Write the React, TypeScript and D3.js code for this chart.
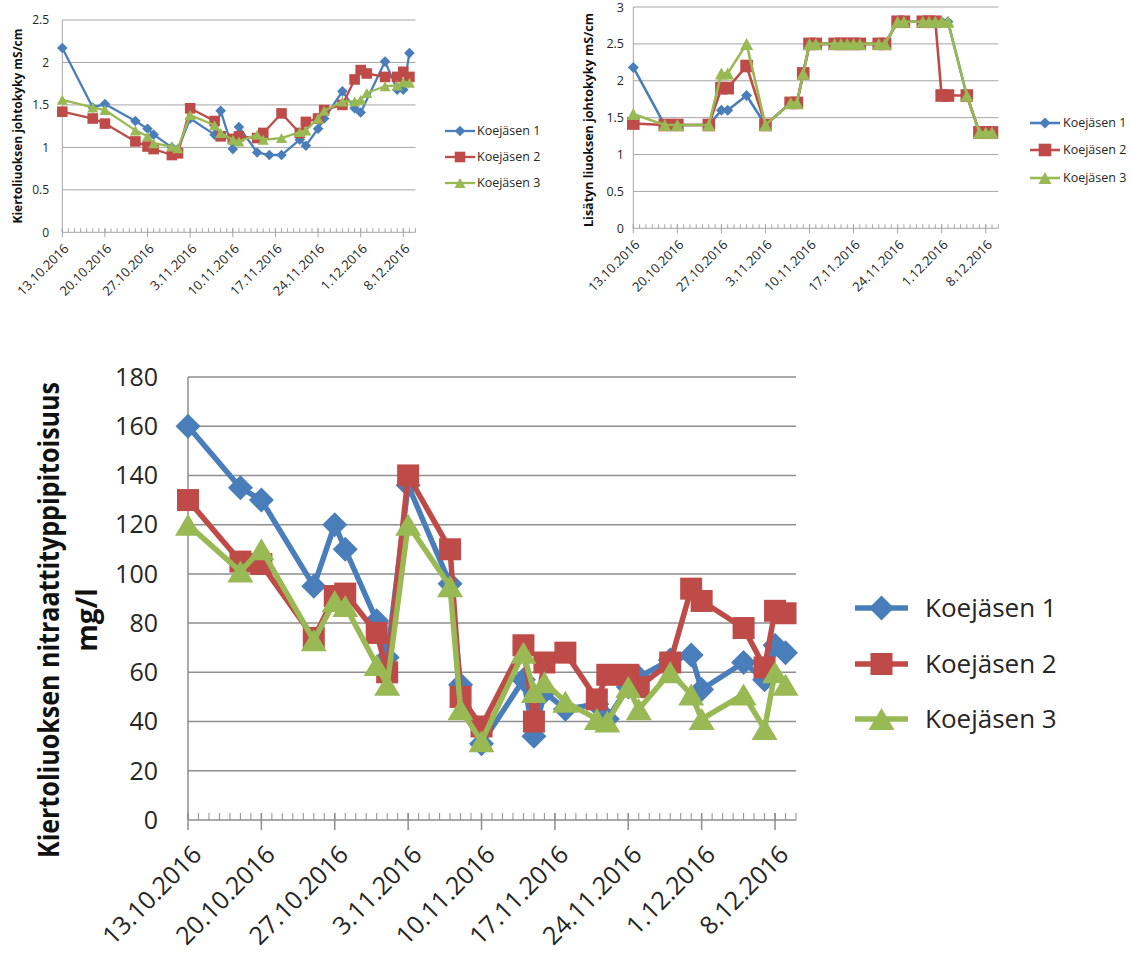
import React from "react";
import * as d3 from "d3";

// Shared date axis: 13.10.2016 – 10.12.2016, labelled weekly, minor ticks daily
const AXIS_START = "13.10.2016";
const AXIS_END = "10.12.2016";
const xTickLabels = [
  "13.10.2016", "20.10.2016", "27.10.2016", "3.11.2016", "10.11.2016",
  "17.11.2016", "24.11.2016", "1.12.2016", "8.12.2016",
];

const seriesNames = ["Koejäsen 1", "Koejäsen 2", "Koejäsen 3"];
const seriesColors = ["#4A7EBB", "#BE4B48", "#98B954"];

// Kiertoliuoksen johtokyky (mS/cm)
const datesConductivity = [
  "13.10.2016", "18.10.2016", "20.10.2016", "25.10.2016", "27.10.2016", "28.10.2016",
  "31.10.2016", "1.11.2016", "3.11.2016", "7.11.2016", "8.11.2016", "10.11.2016",
  "11.11.2016", "14.11.2016", "15.11.2016", "16.11.2016", "18.11.2016", "21.11.2016",
  "22.11.2016", "24.11.2016", "25.11.2016", "28.11.2016", "30.11.2016", "1.12.2016",
  "2.12.2016", "5.12.2016", "7.12.2016", "8.12.2016", "9.12.2016",
];
const conductivity1 = [2.17, 1.47, 1.51, 1.31, 1.22, 1.15, 1.0, 0.98, 1.34, 1.15, 1.43, 0.98, 1.24, 0.94, null, 0.91, 0.91, 1.09, 1.02, 1.22, 1.34, 1.66, 1.46, 1.41, null, 2.01, 1.68, 1.68, 2.11];
const conductivity2 = [1.42, 1.34, 1.28, 1.07, 1.01, 0.98, 0.91, 0.93, 1.46, 1.31, 1.13, 1.1, 1.13, 1.11, 1.17, null, 1.4, 1.17, 1.3, 1.34, 1.44, 1.5, 1.8, 1.91, 1.87, 1.83, 1.83, 1.89, 1.83];
const conductivity3 = [1.56, 1.47, 1.44, 1.2, 1.13, 1.05, 1.01, 0.99, 1.38, 1.26, 1.17, 1.09, 1.07, 1.15, 1.09, null, 1.11, 1.18, 1.2, 1.34, 1.43, 1.54, 1.54, 1.56, 1.64, 1.72, 1.73, 1.77, 1.76];
const conductivityTicks = [0, 0.5, 1, 1.5, 2, 2.5];

// Lisätyn liuoksen johtokyky (mS/cm)
const datesAdded = [
  "13.10.2016", "18.10.2016", "20.10.2016", "25.10.2016", "27.10.2016", "28.10.2016",
  "31.10.2016", "3.11.2016", "7.11.2016", "8.11.2016", "9.11.2016", "10.11.2016",
  "11.11.2016", "14.11.2016", "15.11.2016", "16.11.2016", "17.11.2016", "18.11.2016",
  "21.11.2016", "22.11.2016", "24.11.2016", "25.11.2016", "28.11.2016", "29.11.2016",
  "30.11.2016", "1.12.2016", "2.12.2016", "5.12.2016", "7.12.2016", "8.12.2016", "9.12.2016",
];
const added1 = [2.18, 1.4, 1.4, 1.4, 1.6, 1.6, 1.8, 1.4, 1.7, 1.7, 2.1, 2.5, 2.5, 2.5, 2.5, 2.5, 2.5, 2.5, 2.5, 2.5, 2.8, 2.8, 2.8, 2.8, 2.8, 2.8, 2.8, 1.8, 1.3, 1.3, 1.3];
const added2 = [1.42, 1.4, 1.4, 1.4, 1.9, 1.9, 2.2, 1.4, 1.7, 1.7, 2.1, 2.5, 2.5, 2.5, 2.5, 2.5, 2.5, 2.5, 2.5, 2.5, 2.8, 2.8, 2.8, 2.8, 2.8, 1.8, 1.8, 1.8, 1.3, 1.3, 1.3];
const added3 = [1.55, 1.4, 1.4, 1.4, 2.1, 2.1, 2.5, 1.4, 1.7, 1.7, 2.1, 2.5, 2.5, 2.5, 2.5, 2.5, 2.5, 2.5, 2.5, 2.5, 2.8, 2.8, 2.8, 2.8, 2.8, 2.8, 2.8, 1.8, 1.3, 1.3, 1.3];
const addedTicks = [0, 0.5, 1, 1.5, 2, 2.5, 3];

// Kiertoliuoksen nitraattityppipitoisuus (mg/l)
const datesNitrate = [
  "13.10.2016", "18.10.2016", "20.10.2016", "25.10.2016", "27.10.2016", "28.10.2016",
  "31.10.2016", "1.11.2016", "3.11.2016", "7.11.2016", "8.11.2016", "10.11.2016",
  "14.11.2016", "15.11.2016", "16.11.2016", "18.11.2016", "21.11.2016", "22.11.2016",
  "24.11.2016", "25.11.2016", "28.11.2016", "30.11.2016", "1.12.2016", "5.12.2016",
  "7.12.2016", "8.12.2016", "9.12.2016",
];
const nitrate1 = [160, 135, 130, 95, 120, 110, 81, 66, 136, 96, 55, 31, 57, 34, 52, 45, 47, 41, 54, 58, 65, 67, 53, 64, 57, 71, 68];
const nitrate2 = [130, 105, 104, 74, 91, 92, 76, 60, 140, 110, 50, 38, 71, 40, 64, 68, 49, 59, 59, 54, 64, 94, 89, 78, 62, 85, 84];
const nitrate3 = [120, 101, 110, 73, 89, 87, 63, 55, 120, 95, 45, 32, 68, 52, 56, 48, 41, 40, 54, 45, 60, 51, 41, 51, 37, 60, 55];
const nitrateTicks = [0, 20, 40, 60, 80, 100, 120, 140, 160, 180];

const FONT = "'Open Sans', 'Noto Sans', sans-serif";

function parseDate(s: string): Date {
  const [d, m, y] = s.split(".").map(Number);
  return new Date(Date.UTC(y, m - 1, d));
}

type MarkerSize = { diamond: number; square: number; triW: number; triH: number };

function markerPath(i: number, s: MarkerSize): string {
  if (i === 0) {
    const r = s.diamond;
    return `M0,${-r}L${r},0L0,${r}L${-r},0Z`;
  }
  if (i === 1) {
    const a = s.square;
    return `M${-a},${-a}H${a}V${a}H${-a}Z`;
  }
  const w = s.triW / 2;
  const h = s.triH / 2;
  return `M0,${-h}L${w},${h}L${-w},${h}Z`;
}

type ChartProps = {
  x0: number; x1: number; yTop: number; yBot: number;
  yTicks: number[];
  dates: string[];
  series: (number | null)[][];
  lineWidth: number;
  marker: MarkerSize;
  tickFont: number;
  xTickFont: number;
  gridColor: string; gridWidth: number;
  minorLen: number; majorUp: number; majorDown: number;
  yLabelRight: number;
  yLabelMinY: number;
  xLabelDx: number; xLabelDy: number;
  title: { lines: string[]; xs: number[]; cy: number; size: number; lengths: (number | null)[] };
  legend: { lx0: number; lx1: number; tx: number; ys: number[]; font: number; lineWidth: number };
};

function LineChart(p: ChartProps) {
  const x = d3.scaleUtc().domain([parseDate(AXIS_START), parseDate(AXIS_END)]).range([p.x0, p.x1]);
  const yMax = p.yTicks[p.yTicks.length - 1];
  const y = d3.scaleLinear().domain([0, yMax]).range([p.yBot, p.yTop]);
  const days = d3.utcDay.range(parseDate(AXIS_START), d3.utcDay.offset(parseDate(AXIS_END), 1));
  const line = d3.line<{ d: Date; v: number }>().x((q) => x(q.d)).y((q) => y(q.v));

  return (
    <g>
      {p.yTicks.map((t) => (
        <line key={`g${t}`} x1={p.x0} x2={p.x1} y1={y(t)} y2={y(t)} stroke={p.gridColor} strokeWidth={p.gridWidth} />
      ))}
      <line x1={p.x0} x2={p.x0} y1={p.yTop} y2={p.yBot} stroke={p.gridColor} strokeWidth={p.gridWidth} />
      {days.map((d, i) => (
        <line key={`m${i}`} x1={x(d)} x2={x(d)} y1={p.yBot - p.minorLen} y2={p.yBot} stroke={p.gridColor} strokeWidth={1} />
      ))}
      {xTickLabels.map((s) => (
        <line key={`M${s}`} x1={x(parseDate(s))} x2={x(parseDate(s))} y1={p.yBot - p.majorUp} y2={p.yBot + p.majorDown} stroke={p.gridColor} strokeWidth={p.gridWidth} />
      ))}
      {p.yTicks.map((t) => (
        <text key={`yl${t}`} x={p.yLabelRight} y={Math.max(y(t), p.yLabelMinY)} dy="0.35em" textAnchor="end" fontSize={p.tickFont} fill="#262626" fontFamily={FONT}>
          {String(t)}
        </text>
      ))}
      {xTickLabels.map((s) => (
        <text
          key={`xl${s}`}
          transform={`translate(${x(parseDate(s)) + p.xLabelDx},${p.yBot + p.xLabelDy}) rotate(-45)`}
          dy="0.35em"
          textAnchor="end"
          fontSize={p.xTickFont}
          fill="#262626"
          fontFamily={FONT}
        >
          {s}
        </text>
      ))}
      {p.title.lines.map((t, i) => (
        <text
          key={`t${i}`}
          transform={`translate(${p.title.xs[i]},${p.title.cy}) rotate(-90)`}
          textAnchor="middle"
          fontSize={p.title.size}
          fontWeight="bold"
          fill="#111"
          fontFamily={FONT}
          {...(p.title.lengths[i] ? { textLength: p.title.lengths[i]!, lengthAdjust: "spacingAndGlyphs" } : {})}
        >
          {t}
        </text>
      ))}
      {p.series.map((vals, si) => {
        const pts = p.dates
          .map((d, i) => ({ d: parseDate(d), v: vals[i] }))
          .filter((q): q is { d: Date; v: number } => q.v !== null);
        const mp = markerPath(si, p.marker);
        return (
          <g key={`s${si}`}>
            <path d={line(pts) ?? ""} fill="none" stroke={seriesColors[si]} strokeWidth={p.lineWidth} strokeLinejoin="round" strokeLinecap="round" />
            {pts.map((q, i) => (
              <path key={i} d={mp} transform={`translate(${x(q.d)},${y(q.v)})`} fill={seriesColors[si]} />
            ))}
          </g>
        );
      })}
      {seriesNames.map((n, si) => (
        <g key={`lg${si}`}>
          <line x1={p.legend.lx0} x2={p.legend.lx1} y1={p.legend.ys[si]} y2={p.legend.ys[si]} stroke={seriesColors[si]} strokeWidth={p.legend.lineWidth} />
          <path d={markerPath(si, p.marker)} transform={`translate(${(p.legend.lx0 + p.legend.lx1) / 2},${p.legend.ys[si]})`} fill={seriesColors[si]} />
          <text x={p.legend.tx} y={p.legend.ys[si]} dy="0.35em" fontSize={p.legend.font} fill="#262626" fontFamily={FONT}>
            {n}
          </text>
        </g>
      ))}
    </g>
  );
}

export default function App() {
  return (
    <svg width={1131} height={960} style={{ position: "absolute", left: 0, top: 0, background: "#fff" }}>
      <LineChart
        x0={62.3} x1={415.5} yTop={20} yBot={232.3}
        yTicks={conductivityTicks}
        dates={datesConductivity}
        series={[conductivity1, conductivity2, conductivity3]}
        lineWidth={2.3}
        marker={{ diamond: 5.3, square: 5.3, triW: 11, triH: 10 }}
        tickFont={12}
        xTickFont={13}
        gridColor="#A6A6A6" gridWidth={1}
        minorLen={4} majorUp={4} majorDown={5}
        yLabelRight={49}
        yLabelMinY={0}
        xLabelDx={4} xLabelDy={14}
        title={{ lines: ["Kiertoliuoksen johtokyky mS/cm"], xs: [22], cy: 126, size: 12, lengths: [195] }}
        legend={{ lx0: 445, lx1: 475, tx: 477, ys: [131, 157, 183], font: 12.5, lineWidth: 2.3 }}
      />
      <LineChart
        x0={633.3} x1={998.3} yTop={7} yBot={228.3}
        yTicks={addedTicks}
        dates={datesAdded}
        series={[added1, added2, added3]}
        lineWidth={2.6}
        marker={{ diamond: 5.5, square: 6.3, triW: 13, triH: 12 }}
        tickFont={12.5}
        xTickFont={13}
        gridColor="#A6A6A6" gridWidth={1}
        minorLen={4} majorUp={4} majorDown={5}
        yLabelRight={624}
        yLabelMinY={8}
        xLabelDx={4} xLabelDy={14}
        title={{ lines: ["Lisätyn liuoksen johtokyky mS/cm"], xs: [593], cy: 120, size: 12, lengths: [214] }}
        legend={{ lx0: 1030, lx1: 1060, tx: 1063, ys: [123, 150, 178], font: 12.5, lineWidth: 2.6 }}
      />
      <LineChart
        x0={188} x1={796} yTop={377} yBot={820}
        yTicks={nitrateTicks}
        dates={datesNitrate}
        series={[nitrate1, nitrate2, nitrate3]}
        lineWidth={5.5}
        marker={{ diamond: 12.5, square: 11, triW: 26, triH: 22 }}
        tickFont={25}
        xTickFont={25}
        gridColor="#8E8E8E" gridWidth={1.5}
        minorLen={7} majorUp={7} majorDown={10}
        yLabelRight={158}
        yLabelMinY={0}
        xLabelDx={9} xLabelDy={30}
        title={{ lines: ["Kiertoliuoksen nitraattityppipitoisuus", "mg/l"], xs: [59, 97], cy: 620, size: 28, lengths: [476, null] }}
        legend={{ lx0: 855, lx1: 908, tx: 925, ys: [608, 664, 719], font: 26, lineWidth: 5.5 }}
      />
    </svg>
  );
}
